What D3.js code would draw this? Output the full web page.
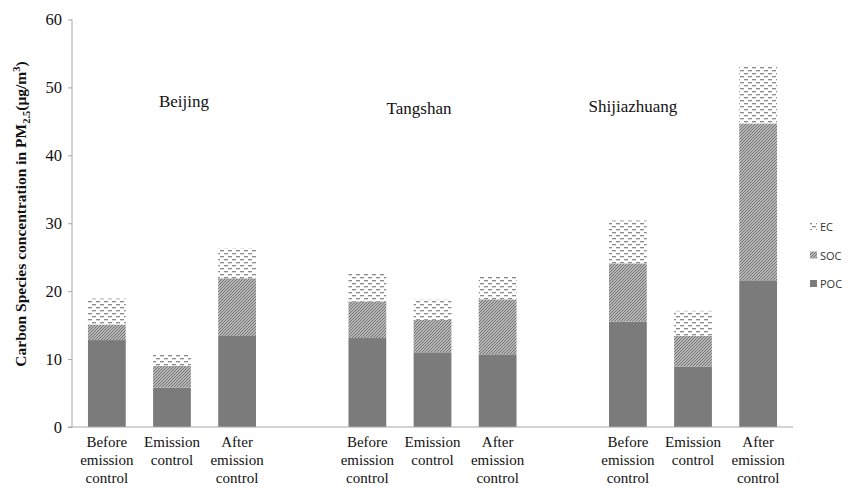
<!DOCTYPE html>
<html>
<head>
<meta charset="utf-8">
<script src="https://cdn.jsdelivr.net/npm/d3@7"></script>
<style>
  body { margin: 0; background: #fff; }
  svg { display: block; }
  .serif { font-family: "Liberation Serif", "Times New Roman", Times, serif; }
  .sans { font-family: "Open Sans", "Liberation Sans", sans-serif; }
</style>
</head>
<body>
<svg id="chart" width="860" height="488"></svg>
<script>
// Sites and sampling periods
const cities = ["Beijing", "Tangshan", "Shijiazhuang"];
const periods = [["Before", "emission", "control"], ["Emission", "control"], ["After", "emission", "control"]];

// Stacked carbon species (µg/m³), one value per city × period, in order
const POC = [12.8, 5.8, 13.4, 13.1, 11.0, 10.7, 15.5, 8.9, 21.6];
const SOC = [2.3, 3.2, 8.5, 5.4, 4.8, 8.1, 8.6, 4.5, 23.1];
const EC  = [3.8, 1.7, 4.4, 4.1, 3.0, 3.4, 6.3, 3.7, 8.5];

const yTicks = [0, 10, 20, 30, 40, 50, 60];
const seriesNames = ["POC", "SOC", "EC"];
const legendOrder = ["EC", "SOC", "POC"];

const svg = d3.select("#chart");

// Category slots: three bars per city with an empty slot between cities
const slots = [];
cities.forEach((c, ci) => {
  periods.forEach((p, pi) => slots.push({ key: c + "-" + pi, city: c, period: p, idx: ci * 3 + pi }));
  if (ci < cities.length - 1) slots.push({ key: "gap-" + ci, gap: true });
});

const x = d3.scaleBand()
  .domain(slots.map(d => d.key))
  .range([72, 793])
  .paddingInner(0.42)
  .paddingOuter(0.245);

const y = d3.scaleLinear().domain([0, 60]).range([427, 19.5]);

// Fill patterns
const defs = svg.append("defs");
const socPat = defs.append("pattern")
  .attr("id", "pat-soc").attr("patternUnits", "userSpaceOnUse")
  .attr("width", 3).attr("height", 3);
socPat.append("rect").attr("width", 3).attr("height", 3).attr("fill", "#d4d4d4");
socPat.append("path").attr("d", "M-1,1 L1,-1 M0,3 L3,0 M2,4 L4,2")
  .attr("stroke", "#6e6e6e").attr("stroke-width", 1.1);

const ecPat = defs.append("pattern")
  .attr("id", "pat-ec").attr("patternUnits", "userSpaceOnUse")
  .attr("width", 8).attr("height", 6);
ecPat.append("rect").attr("width", 8).attr("height", 6).attr("fill", "#fff");
ecPat.append("rect").attr("x", 0).attr("y", 1).attr("width", 4).attr("height", 1.3).attr("fill", "#8a8a8a");
ecPat.append("rect").attr("x", 4).attr("y", 4).attr("width", 4).attr("height", 1.3).attr("fill", "#8a8a8a");

const fills = { POC: "#7b7b7b", SOC: "url(#pat-soc)", EC: "url(#pat-ec)" };

// Stack data
const rows = slots.filter(d => !d.gap).map(d => ({
  key: d.key, POC: POC[d.idx], SOC: SOC[d.idx], EC: EC[d.idx]
}));
const stack = d3.stack().keys(seriesNames)(rows);

svg.append("g").selectAll("g")
  .data(stack)
  .join("g")
  .attr("fill", s => fills[s.key])
  .selectAll("rect")
  .data(s => s)
  .join("rect")
  .attr("x", d => x(d.data.key))
  .attr("width", x.bandwidth())
  .attr("y", d => y(d[1]))
  .attr("height", d => y(d[0]) - y(d[1]));

// Y axis
const yAxis = d3.axisLeft(y).tickValues(yTicks).tickSize(4).tickPadding(6);
const gy = svg.append("g").attr("transform", "translate(72,0)").call(yAxis);
gy.attr("font-family", null).attr("font-size", null);
gy.select(".domain").attr("stroke", "#a6a6a6").attr("d", `M0,${y(60)}V${y(0)}`);
gy.selectAll(".tick line").attr("stroke", "#a6a6a6");
gy.selectAll(".tick text")
  .attr("class", "serif").style("font-size", "16.5px").attr("fill", "#111");

// X baseline
svg.append("line")
  .attr("x1", 68).attr("x2", x.range()[1])
  .attr("y1", y(0)).attr("y2", y(0))
  .attr("stroke", "#a6a6a6");

// Period labels under each bar
const xl = svg.append("g").attr("class", "serif").style("font-size", "15px")
  .attr("fill", "#111").attr("text-anchor", "middle");
slots.filter(d => !d.gap).forEach(d => {
  const cx = x(d.key) + x.bandwidth() / 2;
  const t = xl.append("text").attr("x", cx).attr("y", 447);
  d.period.forEach((line, i) => {
    t.append("tspan").attr("x", cx).attr("y", 447 + i * 18).text(line);
  });
});

// City names above each group
const cityPos = { Beijing: [184, 107], Tangshan: [419, 114], Shijiazhuang: [633, 112] };
svg.append("g").selectAll("text")
  .data(cities)
  .join("text")
  .attr("class", "serif")
  .attr("x", c => cityPos[c][0])
  .attr("y", c => cityPos[c][1])
  .attr("text-anchor", "middle")
  .style("font-size", "17px").attr("fill", "#111")
  .text(c => c);

// Y axis title
const yt = svg.append("text")
  .attr("class", "serif")
  .attr("transform", "translate(26,214) rotate(-90)")
  .attr("text-anchor", "middle")
  .style("font-size", "15.5px").attr("font-weight", "bold")
  .attr("fill", "#111");
yt.append("tspan").text("Carbon Species concentration in PM");
yt.append("tspan").style("font-size", "10.5px").attr("dy", 4).text("2.5");
yt.append("tspan").attr("dy", -4).text("(μg/m");
yt.append("tspan").style("font-size", "10.5px").attr("dy", -6).text("3");
yt.append("tspan").attr("dy", 6).text(")");

// Legend
const lg = svg.append("g").attr("class", "sans")
  .style("font-size", "11px").attr("fill", "#333");
legendOrder.forEach((k, i) => {
  const ly = 227 + i * 28.5;
  lg.append("rect").attr("x", 810).attr("y", ly - 4).attr("width", 7).attr("height", 7)
    .attr("fill", fills[k]);
  lg.append("text").attr("x", 820).attr("y", ly + 4).text(k);
});
</script>
</body>
</html>
